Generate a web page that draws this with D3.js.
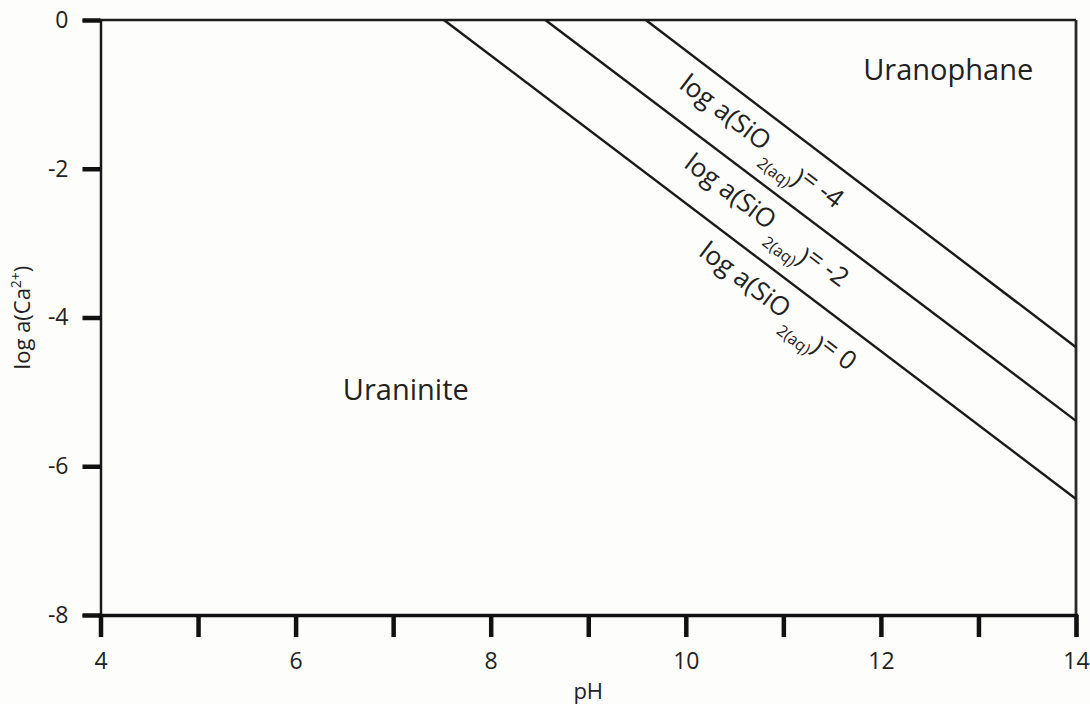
<!DOCTYPE html>
<html lang="en">
<head>
  <meta charset="UTF-8">
  <title>Uraninite / Uranophane stability</title>
  <script src="https://d3js.org/d3.v7.min.js"></script>
  <style>
    body { margin: 0; background: #fdfdfc; font-family: "Open Sans", sans-serif; }
    text { fill: #222; }
  </style>
</head>
<body>
  <svg id="chart" width="1090" height="704"></svg>
  <script>
    // axis ticks
    const phTicks = [4, 5, 6, 7, 8, 9, 10, 11, 12, 13, 14];
    const caTicks = [-8, -6, -4, -2, 0];

    // boundaries for each log a(SiO2(aq)) level: [pH, log a(Ca2+)] end points
    const silicaLevels = ["0", "-2", "-4"];
    const boundaryStart = [[7.52, 0], [8.56, 0], [9.59, 0]];
    const boundaryEnd = [[14, -6.44], [14, -5.39], [14, -4.40]];
    const labelPH = [10.33, 10.18, 10.13];

    // field names
    const fields = ["Uraninite", "Uranophane"];
    const fieldPos = [[7.13, -5.0], [12.69, -0.7]];

    const svg = d3.select("#chart");
    const x = d3.scaleLinear().domain([4, 14]).range([100.5, 1076]);
    const y = d3.scaleLinear().domain([-8, 0]).range([615, 20]);

    // frame (top + right)
    svg.append("line")
      .attr("x1", x(4)).attr("x2", x(14)).attr("y1", y(0)).attr("y2", y(0))
      .attr("stroke", "#1a1a1a").attr("stroke-width", 2.5);
    svg.append("line")
      .attr("x1", x(14)).attr("x2", x(14)).attr("y1", y(0)).attr("y2", y(-8))
      .attr("stroke", "#2a2a2a").attr("stroke-width", 2.8);

    // left axis
    const yAxis = svg.append("g")
      .attr("transform", `translate(${x(4)},0)`)
      .call(d3.axisLeft(y).tickValues(caTicks).tickSize(18).tickPadding(14).tickFormat(d => d));
    yAxis.select(".domain").attr("stroke", "#1a1a1a").attr("stroke-width", 2.5);
    yAxis.selectAll(".tick line").attr("stroke", "#111").attr("stroke-width", 4.5);
    yAxis.selectAll(".tick text")
      .style("font-family", "Open Sans").style("font-size", "23px").attr("fill", "#222");

    // bottom axis
    const xAxis = svg.append("g")
      .attr("transform", `translate(0,${y(-8)})`)
      .call(d3.axisBottom(x).tickValues(phTicks).tickSize(22).tickPadding(16)
        .tickFormat(d => d % 2 === 0 ? d : ""));
    xAxis.select(".domain").attr("stroke", "#111").attr("stroke-width", 3.5);
    xAxis.selectAll(".tick line").attr("stroke", "#111").attr("stroke-width", 4.5);
    xAxis.selectAll(".tick text")
      .style("font-family", "Open Sans").style("font-size", "23px").attr("fill", "#222");

    // axis titles
    svg.append("text")
      .attr("x", (x(4) + x(14)) / 2).attr("y", 699)
      .attr("text-anchor", "middle")
      .style("font-size", "22px")
      .text("pH");

    const yTitle = svg.append("text")
      .attr("transform", `translate(30,${(y(0) + y(-8)) / 2}) rotate(-90)`)
      .attr("text-anchor", "middle")
      .style("font-size", "22px");
    yTitle.append("tspan").text("log a(Ca");
    yTitle.append("tspan").attr("dy", -9).style("font-size", "14px").text("2+");
    yTitle.append("tspan").attr("dy", 9).text(")");

    // boundary lines
    svg.selectAll(".boundary")
      .data(silicaLevels)
      .enter().append("line")
      .attr("class", "boundary")
      .attr("x1", (d, i) => x(boundaryStart[i][0]))
      .attr("y1", (d, i) => y(boundaryStart[i][1]))
      .attr("x2", (d, i) => x(boundaryEnd[i][0]))
      .attr("y2", (d, i) => y(boundaryEnd[i][1]))
      .attr("stroke", "#1a1a1a")
      .attr("stroke-width", 2.4);

    // rotated labels under each boundary
    silicaLevels.forEach((lvl, i) => {
      const [p0, c0] = boundaryStart[i], [p1, c1] = boundaryEnd[i];
      const slope = (c1 - c0) / (p1 - p0);
      const c = c0 + slope * (labelPH[i] - p0);
      const angle = Math.atan2(y(c1) - y(c0), x(p1) - x(p0)) * 180 / Math.PI;
      const t = svg.append("text")
        .attr("transform", `translate(${x(labelPH[i])},${y(c)}) rotate(${angle})`)
        .attr("y", 34)
        .style("font-size", "26px");
      t.append("tspan").text("log a(SiO");
      t.append("tspan").attr("dx", 3).attr("dy", 15).style("font-size", "16px").text("2(aq)");
      t.append("tspan").attr("dy", -7).text(")");
      t.append("tspan").attr("dy", -6).text("= " + lvl);
    });

    // field labels
    svg.selectAll(".field")
      .data(fields)
      .enter().append("text")
      .attr("class", "field")
      .attr("x", (d, i) => x(fieldPos[i][0]))
      .attr("y", (d, i) => y(fieldPos[i][1]))
      .attr("text-anchor", "middle")
      .attr("dominant-baseline", "middle")
      .style("font-size", "29px")
      .text(d => d);
  </script>
</body>
</html>
